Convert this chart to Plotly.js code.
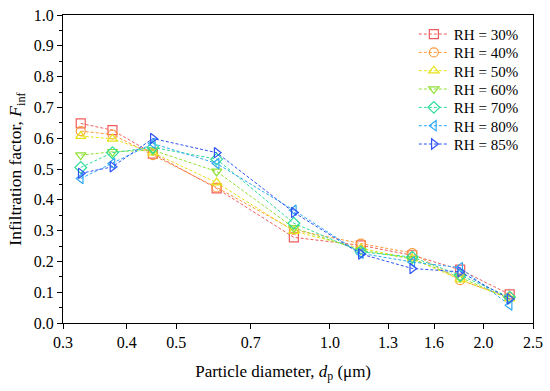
<!DOCTYPE html>
<html>
<head>
<meta charset="utf-8">
<script src="https://cdn.plot.ly/plotly-3.0.1.min.js"></script>
<style>html,body{margin:0;padding:0;background:#fff;}#chart{width:550px;height:391px;}</style>
</head>
<body>
<div id="chart"></div>
<script>
const diameters = [0.325, 0.375, 0.45, 0.6, 0.85, 1.15, 1.45, 1.8, 2.25];
const seriesNames = ["RH = 30%", "RH = 40%", "RH = 50%", "RH = 60%", "RH = 70%", "RH = 80%", "RH = 85%"];
const rh30 = [0.648, 0.626, 0.550, 0.437, 0.278, 0.252, 0.220, 0.173, 0.093];
const rh40 = [0.623, 0.612, 0.545, 0.440, 0.302, 0.258, 0.227, 0.139, 0.083];
const rh50 = [0.607, 0.598, 0.553, 0.456, 0.298, 0.242, 0.209, 0.141, 0.079];
const rh60 = [0.545, 0.556, 0.561, 0.492, 0.309, 0.236, 0.208, 0.148, 0.079];
const rh70 = [0.505, 0.553, 0.570, 0.532, 0.324, 0.231, 0.214, 0.155, 0.084];
const rh80 = [0.469, 0.518, 0.583, 0.518, 0.366, 0.226, 0.198, 0.180, 0.058];
const rh85 = [0.486, 0.507, 0.599, 0.553, 0.359, 0.224, 0.177, 0.166, 0.078];
const xTickVals = [0.3, 0.4, 0.5, 0.7, 1.0, 1.3, 1.6, 2.0, 2.5];
const xTickText = ["0.3", "0.4", "0.5", "0.7", "1.0", "1.3", "1.6", "2.0", "2.5"];

const allSeries = [rh30, rh40, rh50, rh60, rh70, rh80, rh85];
const colors = ["#f25c5c", "#ff9a3c", "#e6e21a", "#8fe034", "#2fdc9a", "#2ea8f5", "#2f52f5"];
const symbols = ["square-open", "circle-open", "triangle-up-open", "triangle-down-open", "diamond-open", "triangle-left-open", "triangle-right-open"];

const font = "'Liberation Serif', 'Times New Roman', serif";

const traces = allSeries.map((ys, i) => ({
  x: diameters, y: ys, name: seriesNames[i], type: "scatter", mode: "lines+markers",
  legend: i === 0 ? "legend" : "legend" + (i + 1),
  line: {color: colors[i], width: 1, dash: "3px,2px"},
  marker: {symbol: symbols[i], size: 9, color: colors[i], line: {color: colors[i], width: 1.2}}
}));

const pad = "&nbsp;".repeat(7);
const layout = {
  width: 550, height: 391,
  margin: {l: 63, r: 17, t: 15, b: 68},
  paper_bgcolor: "#fff", plot_bgcolor: "#fff",
  font: {family: font, size: 16, color: "#000"},
  showlegend: true,
  xaxis: {
    type: "log", range: [Math.log10(0.3), Math.log10(2.5)],
    tickvals: xTickVals, ticktext: xTickText,
    ticks: "outside", ticklen: 5, tickwidth: 1, tickcolor: "#000",
    showline: true, linecolor: "#000", linewidth: 1, mirror: true,
    showgrid: false, zeroline: false,
    tickfont: {family: font, size: 16},
    title: {text: "Particle diameter, <i>d</i><sub>p</sub> (μm)" + pad, font: {family: font, size: 17}, standoff: 14}
  },
  yaxis: {
    range: [0, 1], dtick: 0.1, tickformat: ".1f",
    ticks: "outside", ticklen: 5, tickwidth: 1, tickcolor: "#000",
    minor: {dtick: 0.05, ticks: "outside", ticklen: 3, tickcolor: "#000", showgrid: false},
    showline: true, linecolor: "#000", linewidth: 1, mirror: true,
    showgrid: false, zeroline: false,
    tickfont: {family: font, size: 16},
    title: {text: "Infiltration factor, <i>F</i><sub>inf</sub>", font: {family: font, size: 17.5}, standoff: 7}
  }
};

// one legend box per series so the row spacing matches the reference
const plotTop = 15, plotH = 391 - 15 - 68;
seriesNames.forEach((n, i) => {
  const key = i === 0 ? "legend" : "legend" + (i + 1);
  const yc = 34.3 + i * 18.33;
  layout[key] = {
    x: 0.7465, xanchor: "left",
    y: (plotTop + plotH - yc) / plotH, yanchor: "middle",
    bgcolor: "rgba(0,0,0,0)", font: {family: font, size: 15}
  };
});

Plotly.newPlot("chart", traces, layout, {displayModeBar: false, staticPlot: true});
</script>
</body>
</html>
